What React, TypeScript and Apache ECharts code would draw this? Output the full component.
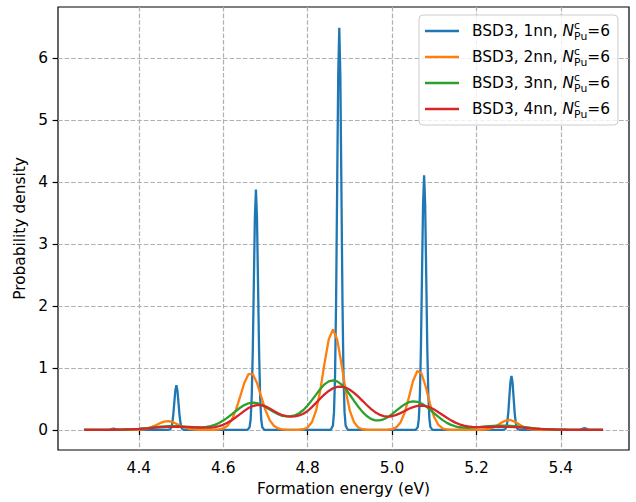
import React, { useEffect, useRef } from "react";
import * as echarts from "echarts";

const FONT = "DejaVu Sans";

const X_MIN = 4.2085;
const X_MAX = 5.5615;
const Y_MIN = -0.325;
const Y_MAX = 6.825;
const X_TICKS = [4.4, 4.6, 4.8, 5.0, 5.2, 5.4];
const Y_TICKS = [0, 1, 2, 3, 4, 5, 6];

const SERIES_NAMES = ["BSD3, 1nn", "BSD3, 2nn", "BSD3, 3nn", "BSD3, 4nn"];
const COLORS = ["#1f77b4", "#ff7f0e", "#2ca02c", "#d62728"];

// 1nn: narrow peaks
const blueEnergy = [
  4.27, 4.33, 4.335, 4.34, 4.345, 4.35,
  4.469, 4.474, 4.4765, 4.479, 4.4815, 4.484, 4.4865, 4.489, 4.4915, 4.494, 4.4965, 4.499, 4.5015, 4.504, 4.509,
  4.6575, 4.6625, 4.665, 4.6675, 4.67, 4.6725, 4.675, 4.6775, 4.68, 4.6825, 4.685, 4.6875, 4.69, 4.6925, 4.6975,
  4.855, 4.86, 4.8625, 4.865, 4.8675, 4.87, 4.8725, 4.875, 4.8775, 4.88, 4.8825, 4.885, 4.8875, 4.89, 4.895,
  5.056, 5.061, 5.0635, 5.066, 5.0685, 5.071, 5.0735, 5.076, 5.0785, 5.081, 5.0835, 5.086, 5.0885, 5.091, 5.096,
  5.263, 5.268, 5.2705, 5.273, 5.2755, 5.278, 5.2805, 5.283, 5.2855, 5.288, 5.2905, 5.293, 5.2955, 5.298, 5.303,
  5.446, 5.451, 5.456, 5.461, 5.466, 5.5,
];
const blueDensity = [
  0, 0, 0.012, 0.02, 0.012, 0,
  0, 0.008, 0.032, 0.097, 0.234, 0.437, 0.635, 0.72, 0.635, 0.437, 0.234, 0.097, 0.032, 0.008, 0,
  0, 0.043, 0.171, 0.524, 1.261, 2.355, 3.424, 3.88, 3.424, 2.355, 1.261, 0.524, 0.171, 0.043, 0,
  0, 0.071, 0.286, 0.876, 2.109, 3.939, 5.727, 6.49, 5.727, 3.939, 2.109, 0.876, 0.286, 0.071, 0,
  0, 0.045, 0.181, 0.555, 1.336, 2.495, 3.627, 4.11, 3.627, 2.495, 1.336, 0.555, 0.181, 0.045, 0,
  0, 0.01, 0.038, 0.117, 0.283, 0.528, 0.768, 0.87, 0.768, 0.528, 0.283, 0.117, 0.038, 0.01, 0,
  0, 0.018, 0.03, 0.018, 0, 0,
];

// shared energy grid for 2nn, 3nn, 4nn
const energy = [
  4.27, 4.28, 4.29, 4.30, 4.31, 4.32, 4.33, 4.34, 4.35, 4.36, 4.37, 4.38, 4.39,
  4.40, 4.41, 4.42, 4.43, 4.44, 4.45, 4.46, 4.47, 4.48, 4.49,
  4.50, 4.51, 4.52, 4.53, 4.54, 4.55, 4.56, 4.57, 4.58, 4.59,
  4.60, 4.61, 4.62, 4.63, 4.64, 4.65, 4.66, 4.67, 4.68, 4.69,
  4.70, 4.71, 4.72, 4.73, 4.74, 4.75, 4.76, 4.77, 4.78, 4.79,
  4.80, 4.81, 4.82, 4.83, 4.84, 4.85, 4.86, 4.87, 4.88, 4.89,
  4.90, 4.91, 4.92, 4.93, 4.94, 4.95, 4.96, 4.97, 4.98, 4.99,
  5.00, 5.01, 5.02, 5.03, 5.04, 5.05, 5.06, 5.07, 5.08, 5.09,
  5.10, 5.11, 5.12, 5.13, 5.14, 5.15, 5.16, 5.17, 5.18, 5.19,
  5.20, 5.21, 5.22, 5.23, 5.24, 5.25, 5.26, 5.27, 5.28, 5.29,
  5.30, 5.31, 5.32, 5.33, 5.34, 5.35, 5.36, 5.37, 5.38, 5.39,
  5.40, 5.41, 5.42, 5.43, 5.44, 5.45, 5.46, 5.47, 5.48, 5.49, 5.50,
];

const orangeDensity = [
  0, 0, 0, 0, 0, 0, 0, 0, 0, 0, 0, 0, 0,
  0.004, 0.01, 0.022, 0.044, 0.075, 0.108, 0.133, 0.14, 0.125, 0.095,
  0.062, 0.034, 0.016, 0.007, 0.002, 0.001, 0, 0, 0.002, 0.007,
  0.023, 0.066, 0.158, 0.318, 0.535, 0.757, 0.9, 0.9, 0.757, 0.535,
  0.318, 0.158, 0.066, 0.023, 0.007, 0.002, 0, 0, 0.002, 0.01,
  0.039, 0.122, 0.31, 0.639, 1.072, 1.461, 1.62, 1.461, 1.072, 0.639,
  0.31, 0.122, 0.039, 0.01, 0.002, 0, 0, 0, 0, 0.002,
  0.011, 0.04, 0.118, 0.279, 0.527, 0.793, 0.95, 0.908, 0.692, 0.42,
  0.203, 0.079, 0.024, 0.006, 0.001, 0, 0, 0, 0, 0,
  0, 0.002, 0.006, 0.016, 0.039, 0.075, 0.119, 0.152, 0.159, 0.134,
  0.093, 0.052, 0.024, 0.009, 0.003, 0.001, 0, 0, 0, 0,
  0, 0, 0, 0, 0, 0, 0, 0, 0, 0, 0,
];

const greenDensity = [
  0, 0, 0, 0, 0, 0, 0.001, 0.001, 0.002, 0.003, 0.005, 0.008, 0.012,
  0.017, 0.023, 0.029, 0.036, 0.044, 0.05, 0.055, 0.059, 0.06, 0.059,
  0.055, 0.05, 0.047, 0.042, 0.04, 0.041, 0.047, 0.06, 0.081, 0.111,
  0.15, 0.198, 0.251, 0.305, 0.357, 0.4, 0.429, 0.44, 0.433, 0.409,
  0.369, 0.33, 0.287, 0.252, 0.227, 0.217, 0.22, 0.235, 0.268, 0.321,
  0.393, 0.48, 0.569, 0.66, 0.735, 0.783, 0.8, 0.783, 0.734, 0.659,
  0.567, 0.469, 0.374, 0.29, 0.224, 0.177, 0.153, 0.152, 0.17, 0.205,
  0.254, 0.309, 0.364, 0.412, 0.446, 0.46, 0.453, 0.426, 0.382, 0.327,
  0.268, 0.21, 0.157, 0.113, 0.081, 0.058, 0.042, 0.035, 0.034, 0.036,
  0.041, 0.047, 0.054, 0.06, 0.066, 0.069, 0.07, 0.069, 0.066, 0.06,
  0.054, 0.046, 0.039, 0.031, 0.024, 0.018, 0.013, 0.01, 0.007, 0.004,
  0.003, 0.002, 0.001, 0, 0, 0, 0, 0, 0, 0, 0,
];

const redDensity = [
  0, 0, 0, 0, 0.001, 0.001, 0.001, 0.002, 0.003, 0.005, 0.007, 0.009, 0.013,
  0.016, 0.021, 0.025, 0.03, 0.035, 0.04, 0.044, 0.047, 0.049, 0.05,
  0.049, 0.047, 0.044, 0.041, 0.038, 0.035, 0.035, 0.038, 0.045, 0.06,
  0.082, 0.114, 0.155, 0.203, 0.255, 0.307, 0.352, 0.385, 0.401, 0.399,
  0.379, 0.345, 0.303, 0.268, 0.237, 0.221, 0.214, 0.217, 0.232, 0.261,
  0.304, 0.367, 0.436, 0.506, 0.572, 0.628, 0.671, 0.695, 0.699, 0.683,
  0.648, 0.597, 0.536, 0.469, 0.401, 0.339, 0.286, 0.247, 0.222, 0.213,
  0.22, 0.241, 0.27, 0.305, 0.34, 0.368, 0.387, 0.393, 0.384, 0.361,
  0.328, 0.285, 0.24, 0.195, 0.153, 0.117, 0.09, 0.069, 0.055, 0.047,
  0.044, 0.043, 0.044, 0.046, 0.049, 0.05, 0.05, 0.049, 0.047, 0.044,
  0.04, 0.035, 0.03, 0.025, 0.021, 0.016, 0.013, 0.009, 0.007, 0.005,
  0.003, 0.002, 0.001, 0.001, 0.001, 0, 0, 0, 0, 0, 0,
];

function pairs(xs: number[], ys: number[]) {
  return xs.map((x, i) => [x, ys[i]]);
}

export default function App() {
  const ref = useRef<HTMLDivElement>(null);

  useEffect(() => {
    if (!ref.current) return;
    const chart = echarts.init(ref.current, null, { renderer: "svg" });
    const gridLine = { color: "#b0b0b0", width: 1.2, type: [4.6, 2] as any };
    const seriesData = [
      pairs(blueEnergy, blueDensity),
      pairs(energy, orangeDensity),
      pairs(energy, greenDensity),
      pairs(energy, redDensity),
    ];
    const option: any = {
      animation: false,
      backgroundColor: "#ffffff",
      textStyle: { fontFamily: FONT },
      grid: {
        left: 58,
        right: 7,
        top: 7,
        bottom: 52,
        show: true,
        borderColor: "#000000",
        borderWidth: 1.2,
        containLabel: false,
        outerBoundsMode: "none",
      },
      xAxis: {
        type: "value",
        min: X_MIN,
        max: X_MAX,
        name: "Formation energy (eV)",
        nameLocation: "middle",
        nameGap: 31,
        nameTextStyle: { fontSize: 15.4, color: "#000", fontFamily: FONT },
        axisLine: { show: false },
        axisTick: {
          show: true,
          inside: false,
          length: 5.4,
          customValues: X_TICKS,
          lineStyle: { color: "#000", width: 1.2 },
        },
        axisLabel: {
          customValues: X_TICKS,
          margin: 10,
          fontSize: 15.4,
          color: "#000",
          fontFamily: FONT,
          formatter: (v: number) => v.toFixed(1),
        },
        splitLine: { show: true, lineStyle: gridLine },
      },
      yAxis: {
        type: "value",
        min: Y_MIN,
        max: Y_MAX,
        name: "Probability density",
        nameLocation: "middle",
        nameGap: 24,
        nameRotate: 90,
        nameTextStyle: { fontSize: 15.4, color: "#000", fontFamily: FONT },
        axisLine: { show: false },
        axisTick: {
          show: true,
          inside: false,
          length: 5.4,
          customValues: Y_TICKS,
          lineStyle: { color: "#000", width: 1.2 },
        },
        axisLabel: {
          customValues: Y_TICKS,
          margin: 10,
          fontSize: 15.4,
          color: "#000",
          fontFamily: FONT,
          formatter: (v: number) => String(Math.round(v)),
        },
        splitLine: { show: true, lineStyle: gridLine },
      },
      legend: {
        orient: "vertical",
        left: 419,
        top: 15,
        padding: [5, 8, 5, 6],
        itemWidth: 34,
        itemHeight: 2.3,
        itemGap: 4,
        icon: "rect",
        selectedMode: false,
        backgroundColor: "rgba(255,255,255,0.8)",
        borderColor: "#cccccc",
        borderWidth: 1,
        borderRadius: 4,
        data: SERIES_NAMES,
        formatter: (name: string) => `${name}, {n|N}{c|c}{p|Pu}=6`,
        textStyle: {
          fontSize: 15.4,
          fontFamily: FONT,
          color: "#000",
          lineHeight: 22,
          padding: [0, 0, 0, 8],
          rich: {
            n: { fontStyle: "italic", fontSize: 15.4, fontFamily: FONT, lineHeight: 22, color: "#000" },
            c: { fontSize: 10.8, fontFamily: FONT, lineHeight: 9, verticalAlign: "top", width: 0, color: "#000" },
            p: { fontSize: 10.8, fontFamily: FONT, lineHeight: 12, verticalAlign: "bottom", color: "#000" },
          },
        },
      },
      series: SERIES_NAMES.map((name, i) => ({
        name,
        type: "line",
        data: seriesData[i],
        showSymbol: false,
        symbol: "none",
        smooth: false,
        clip: true,
        color: COLORS[i],
        lineStyle: { color: COLORS[i], width: 2.3 },
        emphasis: { disabled: true },
        z: 2 + i,
      })),
    };
    chart.setOption(option);
    return () => chart.dispose();
  }, []);

  return (
    <div
      ref={ref}
      style={{ position: "fixed", left: 0, top: 0, width: 636, height: 502, background: "#fff" }}
    />
  );
}
